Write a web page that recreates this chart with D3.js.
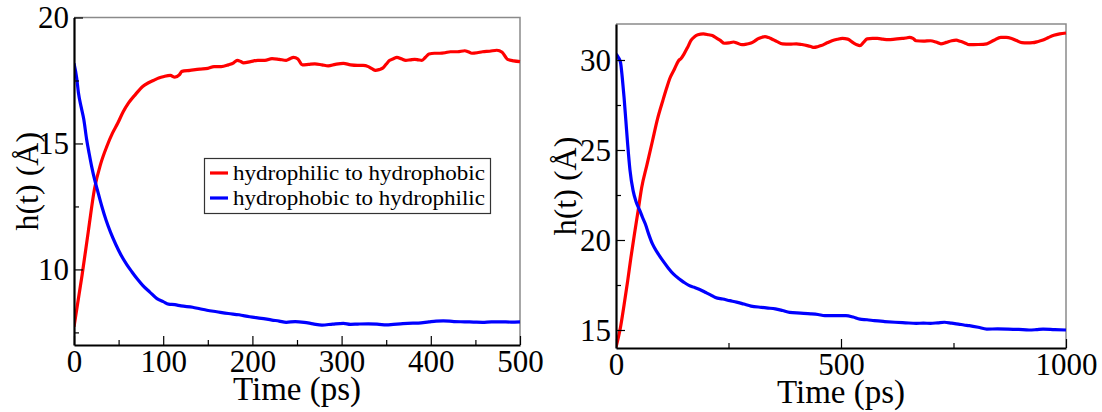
<!DOCTYPE html>
<html><head><meta charset="utf-8">
<script src="https://cdn.jsdelivr.net/npm/d3@7"></script>
<style>
html,body{margin:0;padding:0;background:#fff;}
svg{display:block;}
svg text{font-family:"Liberation Serif","Times New Roman",Times,serif;}
</style></head>
<body><svg id="c" width="1102" height="412"></svg>
<script>
// ---- Data ----
const leftRedT = [0,9,16,23,30,37,43,49,55,61,69,77,83,89,95,101,108,113,118,121,130,141,150,157,165,173,179,183,187,190,198,206,214,222,230,238,242,246,251,256,263,270,278,285,293,302,310,318,324,330,334,338,342,346,350,354,358,362,367,372,377,382,386,390,394,398,404,410,416,422,430,438,442,446,452,458,466,474,480,486,493,500];
const leftRedH = [7.72,9.76,11.5,13.2,14.2,14.9,15.4,15.8,16.25,16.6,16.95,17.26,17.4,17.5,17.6,17.66,17.7,17.63,17.72,17.86,17.9,17.95,17.98,18.05,18.05,18.12,18.2,18.3,18.25,18.2,18.25,18.3,18.3,18.37,18.34,18.3,18.36,18.42,18.35,18.12,18.14,18.16,18.12,18.08,18.14,18.18,18.12,18.1,18.1,18.05,17.97,17.9,17.93,17.99,18.15,18.3,18.36,18.42,18.36,18.3,18.32,18.34,18.32,18.3,18.42,18.55,18.58,18.58,18.6,18.64,18.64,18.68,18.64,18.58,18.6,18.64,18.66,18.7,18.62,18.34,18.28,18.25];
const leftBlueT = [0,3,5,8,11,14,17,20,23,27,31,36,41,47,53,59,65,71,77,85,93,100,106,113,120,133,141,149,160,173,185,197,210,222,230,238,248,258,268,278,290,302,310,318,330,342,350,358,366,374,386,398,406,414,426,438,448,458,468,478,490,500];
const leftBlueH = [18.18,17.6,17.0,16.45,15.95,15.2,14.6,14.05,13.58,13.05,12.53,11.95,11.47,10.98,10.55,10.2,9.9,9.62,9.37,9.1,8.84,8.72,8.62,8.6,8.55,8.5,8.44,8.38,8.32,8.25,8.2,8.12,8.06,7.99,7.95,7.9,7.93,7.9,7.84,7.79,7.83,7.86,7.82,7.83,7.84,7.82,7.8,7.82,7.84,7.86,7.87,7.92,7.95,7.96,7.93,7.92,7.91,7.9,7.92,7.92,7.91,7.92];

const rightRedT = [0,10,18,26,33,41,49,57,69,81,92,104,112,120,130,139,145,151,159,167,175,182,194,206,214,221,231,241,251,261,270,280,290,300,308,315,323,331,339,346,358,370,386,401,413,425,433,440,448,456,468,480,492,503,515,527,535,542,550,558,570,581,593,605,620,636,644,652,660,667,683,699,711,722,734,746,756,765,775,785,805,824,840,855,867,879,890,902,914,926,938,949,961,973,986,1000];
const rightRedH = [14.04,15.15,16.4,17.74,19.0,20.33,21.6,22.9,24.2,25.5,26.7,27.74,28.4,29.0,29.5,29.96,30.1,30.33,30.7,31.1,31.3,31.4,31.45,31.4,31.36,31.26,31.1,30.93,30.95,31.0,30.93,30.85,30.88,30.94,31.05,31.17,31.25,31.3,31.25,31.17,31.02,30.9,30.88,30.9,30.86,30.8,30.75,30.7,30.74,30.8,30.94,31.07,31.15,31.2,31.16,30.96,30.85,30.8,30.98,31.17,31.2,31.2,31.16,31.13,31.16,31.2,31.22,31.26,31.2,31.07,31.05,31.07,31.0,30.9,30.98,31.07,31.1,31.04,30.95,30.85,30.86,30.9,31.1,31.26,31.26,31.2,31.08,30.96,30.95,30.96,31.03,31.11,31.25,31.37,31.45,31.5];
const rightBlueT = [0,5,10,14,18,22,26,31,38,45,53,59,65,73,81,92,104,116,128,140,151,162,174,186,198,210,221,237,253,268,284,300,323,338,354,370,386,410,433,449,464,488,511,527,542,558,574,597,620,643,667,683,699,715,730,746,761,773,785,805,824,848,871,895,918,934,949,975,1000];
const rightBlueH = [30.33,30.15,29.87,29.0,27.9,26.6,25.3,23.9,22.74,22.1,21.63,21.25,20.9,20.3,19.78,19.3,18.85,18.45,18.1,17.85,17.65,17.48,17.37,17.25,17.1,16.95,16.8,16.72,16.63,16.55,16.44,16.33,16.26,16.22,16.17,16.08,15.98,15.94,15.9,15.86,15.8,15.8,15.8,15.72,15.6,15.57,15.52,15.47,15.43,15.4,15.37,15.38,15.37,15.4,15.43,15.38,15.33,15.28,15.24,15.15,15.05,15.06,15.05,15.03,15.0,15.02,15.05,15.02,15.0];

const legendLabels = ["hydrophilic to hydrophobic","hydrophobic to hydrophilic"];
const seriesColors = ["#ff0000","#0000ff"];
const leftXTicks = [0,100,200,300,400,500];
const leftXMinor = [50,150,250,350,450];
const leftYTicks = [10,15,20];
const leftYMinor = [7.5,12.5,17.5];
const rightXTicks = [0,500,1000];
const rightXMinor = [250,750];
const rightYTicks = [15,20,25,30];
const rightYMinor = [17.5,22.5,27.5];

const FONT = '"Liberation Serif","Times New Roman",Times,serif';
const svg = d3.select("#c").attr("font-family",FONT);

function panel(o){
  const x = d3.scaleLinear().domain(o.xd).range([o.x0,o.x1]);
  const y = d3.scaleLinear().domain(o.yd).range([o.y1,o.y0]);
  const g = svg.append("g").attr("font-family",FONT);
  g.append("path").attr("d",`M${o.x0},${o.y0}H${o.x1}V${o.y1}`)
    .attr("fill","none").attr("stroke","#8a8a8a").attr("stroke-width",1.5);
  const clipId = "clip"+o.id;
  svg.append("clipPath").attr("id",clipId).append("rect")
    .attr("x",o.x0).attr("y",o.y0-2).attr("width",o.x1-o.x0+2).attr("height",o.y1-o.y0+2);
  const line = d3.line().x(d=>x(d[0])).y(d=>y(d[1])).curve(d3.curveMonotoneX);
  o.series.forEach(s=>{
    g.append("path").datum(d3.zip(s.t,s.h)).attr("d",line)
      .attr("fill","none").attr("stroke",seriesColors[s.c]).attr("stroke-width",3.2)
      .attr("stroke-linejoin","round").attr("clip-path",`url(#${clipId})`);
  });
  const xm = g.append("g").attr("transform",`translate(0,${o.y1})`)
    .call(d3.axisBottom(x).tickValues(o.xMinor).tickSize(-5).tickFormat(""));
  const ym = g.append("g").attr("transform",`translate(${o.x0},0)`)
    .call(d3.axisLeft(y).tickValues(o.yMinor).tickSize(-5).tickFormat(""));
  [xm,ym].forEach(a=>{a.select(".domain").remove(); a.selectAll("line").attr("stroke","#000").attr("stroke-width",1.2);});
  const xa = g.append("g").attr("transform",`translate(0,${o.y1})`)
    .call(d3.axisBottom(x).tickValues(o.xTicks).tickSize(-9).tickSizeOuter(0).tickFormat(d3.format("d")));
  const ya = g.append("g").attr("transform",`translate(${o.x0},0)`)
    .call(d3.axisLeft(y).tickValues(o.yTicks).tickSize(-9).tickSizeOuter(0).tickFormat(d3.format("d")));
  [xa,ya].forEach(a=>{
    a.attr("font-family",FONT).attr("font-size",31);
    a.select(".domain").attr("stroke","#000").attr("stroke-width",2.2);
    a.selectAll(".tick line").attr("stroke","#000").attr("stroke-width",1.2);
    a.selectAll("text").attr("fill","#000");
  });
  xa.selectAll("text").attr("y",27).attr("dy",null);
  ya.selectAll("text").attr("x",-5).attr("dy","0.33em");
  g.append("text").attr("x",(o.x0+o.x1)/2).attr("y",o.y1+55).attr("text-anchor","middle")
    .attr("font-size",33).text("Time (ps)");
  g.append("text").attr("transform",`translate(${o.ytx},${(o.y0+o.y1)/2}) rotate(-90)`)
    .attr("text-anchor","middle").attr("font-size",32).text("h(t) (Å)");
}

panel({id:"L",x0:74,x1:520,y0:17.5,y1:345,xd:[0,500],yd:[7,20],ytx:38,
  xTicks:leftXTicks,xMinor:leftXMinor,yTicks:leftYTicks,yMinor:leftYMinor,
  series:[{t:leftRedT,h:leftRedH,c:0},{t:leftBlueT,h:leftBlueH,c:1}]});
panel({id:"R",x0:616,x1:1066,y0:24,y1:348,xd:[0,1000],yd:[14,32],ytx:576,
  xTicks:rightXTicks,xMinor:rightXMinor,yTicks:rightYTicks,yMinor:rightYMinor,
  series:[{t:rightRedT,h:rightRedH,c:0},{t:rightBlueT,h:rightBlueH,c:1}]});

const lg = svg.append("g").attr("font-family",FONT);
lg.append("rect").attr("x",204.5).attr("y",158.5).attr("width",286).attr("height",55)
  .attr("fill","#fff").attr("stroke","#333").attr("stroke-width",1.2);
legendLabels.forEach((l,i)=>{
  const yy = 173 + i*25;
  lg.append("line").attr("x1",210).attr("x2",228).attr("y1",yy).attr("y2",yy)
    .attr("stroke",seriesColors[i]).attr("stroke-width",3.2);
  lg.append("text").attr("x",233).attr("y",yy+7).attr("font-size",21)
    .attr("textLength",252).attr("lengthAdjust","spacingAndGlyphs").text(l);
});
</script></body></html>
